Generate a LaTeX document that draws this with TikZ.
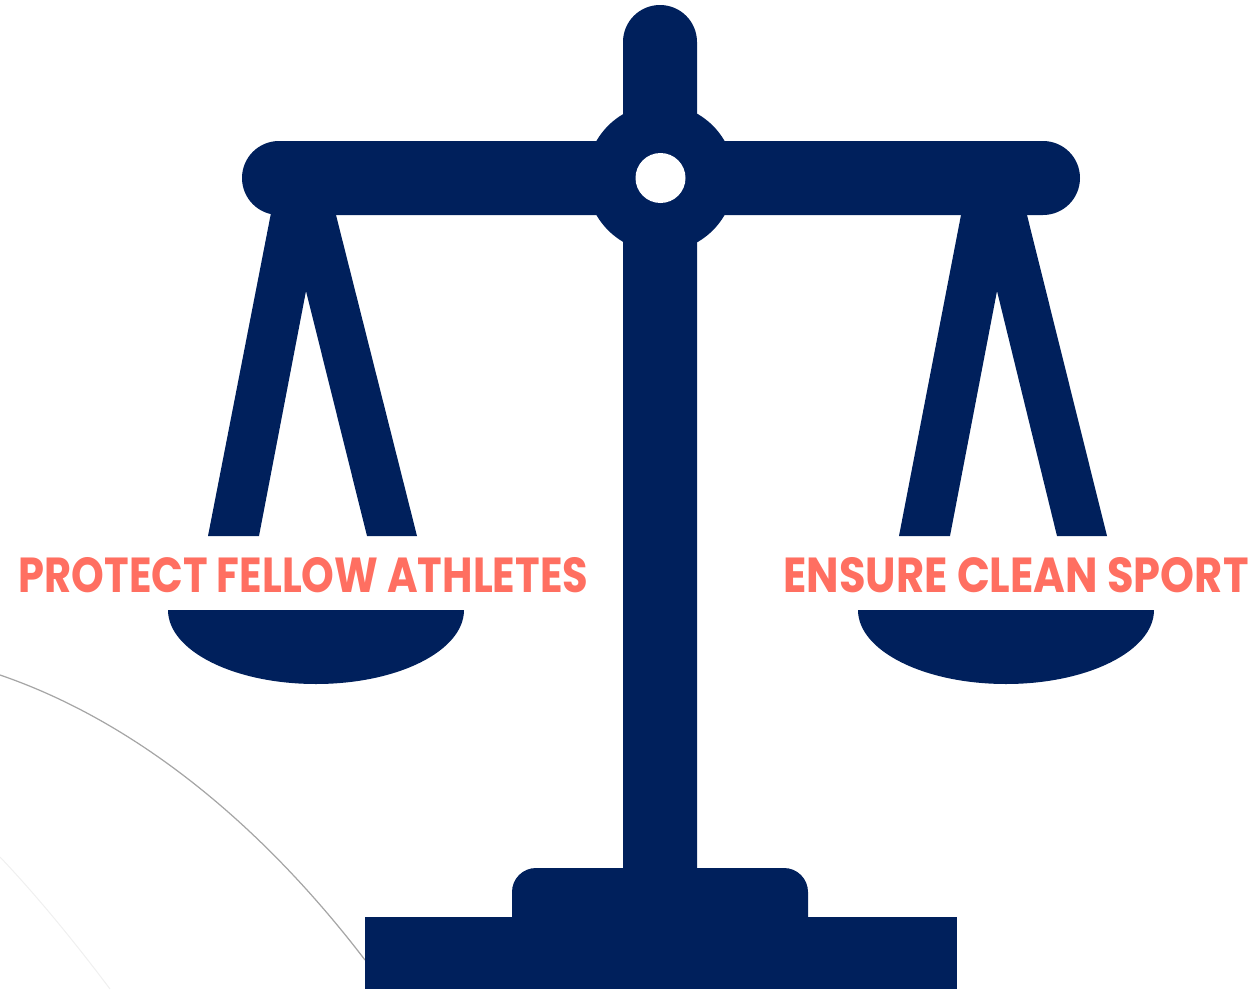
\documentclass[tikz,border=0pt]{standalone}
\usepackage{graphicx}
\usepackage{fontspec}
\setmainfont{Poppins}
\definecolor{scalenavy}{HTML}{00205C}
\definecolor{labelcoral}{HTML}{FF6F61}

\begin{document}
\begin{tikzpicture}[
        metal/.style={fill=scalenavy},
        label/.style={text=labelcoral, inner sep=0pt, anchor=base, font=\fontsize{14}{16}\selectfont\bfseries},
        hubdisc/.style={circle, fill=scalenavy, inner sep=0pt, minimum size=1.48cm},
        pinhole/.style={circle, fill=white, inner sep=0pt, minimum size=0.5cm}
    ]
        \useasboundingbox (0, 0) rectangle (12.55, 9.89);

        % Background arcs
        \draw[gray!70, line width=0.35pt] (0, 3.14) .. controls (1.4, 2.66) and (2.65, 1.6) .. (3.65, 0.29);
        \draw[gray!12, line width=0.3pt] (0, 1.32) .. controls (0.4, 0.9) and (0.8, 0.4) .. (1.1, 0);

        % Post
        \fill[metal, rounded corners=0.37cm] (6.23, 0.72) -- (6.23, 9.84) -- (6.97, 9.84) -- (6.97, 0.72);

        % Beam
        \fill[metal, rounded corners=0.37cm] (2.42, 7.74) rectangle (10.80, 8.48);
        \node[hubdisc] (hub) at (6.605, 8.11) {};
        \node[pinhole] (pin) at (hub.center) {};

        % Left pan
        \fill[metal] (2.71, 7.76) -- (2.08, 4.53) -- (2.59, 4.53) -- (3.06, 6.98) -- (3.67, 4.53) -- (4.17, 4.53) -- (3.36, 7.74) -- cycle;
        \node[label] (protect) at (3.035, 3.97) {\scalebox{0.846}[1]{PROTECT FELLOW ATHLETES}};
        \fill[metal] (1.68, 3.79) arc (180:360:1.48 and 0.74) -- cycle;

        % Right pan
        \fill[metal] (9.61, 7.74) -- (8.99, 4.53) -- (9.50, 4.53) -- (9.97, 6.98) -- (10.57, 4.53) -- (11.07, 4.53) -- (10.27, 7.74) -- cycle;
        \node[label] (ensure) at (10.16, 3.97) {\scalebox{0.878}[1]{ENSURE CLEAN SPORT}};
        \fill[metal] (8.58, 3.79) arc (180:360:1.48 and 0.74) -- cycle;

        % Base
        \fill[metal] (3.65, 0) rectangle (9.57, 0.72);
        \fill[metal, rounded corners=0.24cm] (5.12, 0.7) -- (5.12, 1.21) -- (8.08, 1.21) -- (8.08, 0.7);

    \end{tikzpicture}
\end{document}
